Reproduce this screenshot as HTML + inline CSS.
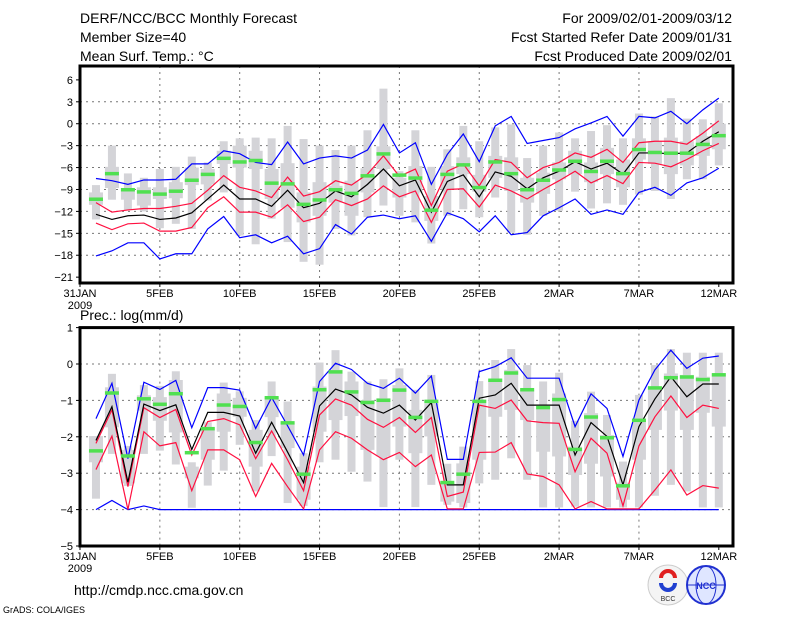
<!DOCTYPE html>
<html><head><meta charset="utf-8"><style>
html,body{margin:0;padding:0;background:#fff;}
svg{display:block;font-family:"Liberation Sans",sans-serif;}
</style></head><body>
<svg id="chart" width="800" height="618" viewBox="0 0 800 618" xmlns="http://www.w3.org/2000/svg">
<rect width="800" height="618" fill="#fff"/>
<g font-size="14" fill="#000">
<text x="80" y="23">DERF/NCC/BCC Monthly Forecast</text>
<text x="80" y="42">Member Size=40</text>
<text x="80" y="61">Mean Surf. Temp.: °C</text>
<text x="732" y="23" text-anchor="end">For 2009/02/01-2009/03/12</text>
<text x="732" y="42" text-anchor="end">Fcst Started Refer Date 2009/01/31</text>
<text x="732" y="61" text-anchor="end">Fcst Produced Date 2009/02/01</text>
<text x="80" y="320">Prec.: log(mm/d)</text>
<text x="74" y="595">http://cmdp.ncc.cma.gov.cn</text>
</g>
<text x="3" y="613" font-size="9">GrADS: COLA/IGES</text>
<g>
<circle cx="668" cy="585" r="20" fill="#f4f4f4" stroke="#ccc"/>
<path d="M661 578 a7 7 0 0 1 14 0" fill="none" stroke="#e02020" stroke-width="4"/>
<path d="M661 583 a7 7 0 0 0 14 0" fill="none" stroke="#2040d0" stroke-width="4"/>
<text x="668" y="601" font-size="7" text-anchor="middle" fill="#333">BCC</text>
</g>
<g>
<circle cx="706" cy="585" r="19" fill="#dfe6ff" stroke="#2030d0" stroke-width="2"/>
<ellipse cx="706" cy="585" rx="10" ry="19" fill="none" stroke="#2030d0"/>
<line x1="687" y1="585" x2="725" y2="585" stroke="#2030d0"/>
<text x="706" y="589" font-size="9" font-weight="bold" text-anchor="middle" fill="#2030d0">NCC</text>
</g>
<g id="p1"></g><g id="p2"></g>
</svg>
<script>
// ---- Temperature panel data (days 1..40 = Feb1..Mar12)
const tBlueMax=[-7.5,-7.8,-8.3,-7.7,-7.7,-7.6,-5.5,-5.5,-3.7,-4.1,-5.3,-5.6,-2.5,-5.5,-4.7,-4.4,-4.7,-3.6,-0.1,-4.0,-2.6,-8.3,-4.2,-1.4,-5.2,-0.3,1.0,-2.7,-2.3,-1.9,-0.7,0.1,1.0,-1.7,1.0,0.8,1.7,0.0,1.9,3.5];
const tRedUp=[-10.8,-12.1,-11.8,-11.6,-11.6,-11.3,-10.9,-9.1,-7.1,-8.7,-9.2,-10.1,-7.3,-9.9,-9.3,-7.8,-8.4,-6.9,-4.4,-7.2,-6.2,-11.2,-6.5,-5.5,-8.5,-4.9,-5.3,-7.4,-6.0,-5.3,-4.0,-4.6,-3.5,-5.3,-2.6,-2.4,-2.4,-2.8,-1.3,0.4];
const tMean=[-12.4,-13.1,-12.6,-12.5,-13.1,-12.9,-12.2,-10.3,-8.4,-10.3,-10.3,-11.3,-9.1,-11.5,-10.9,-9.2,-10.0,-8.3,-6.2,-8.5,-7.7,-12.1,-7.9,-7.0,-10.0,-6.6,-7.2,-8.9,-7.4,-6.5,-5.2,-6.2,-5.4,-6.9,-4.0,-4.0,-4.1,-4.0,-2.4,-1.1];
const tRedLo=[-13.6,-14.5,-13.7,-13.6,-14.7,-14.7,-14.2,-11.5,-10.0,-12.1,-12.1,-12.8,-11.1,-13.4,-12.8,-10.4,-11.2,-10.3,-8.5,-10.0,-9.2,-13.5,-9.0,-8.9,-11.4,-8.4,-9.2,-10.3,-9.0,-7.8,-6.5,-8.1,-7.1,-8.2,-5.3,-5.4,-5.9,-4.9,-3.7,-2.7];
const tBlueMin=[-18.1,-17.4,-16.3,-16.3,-18.5,-17.8,-17.8,-14.4,-12.7,-15.6,-15.2,-16.3,-15.4,-17.8,-17.1,-13.8,-15.1,-12.8,-12.5,-13.0,-12.6,-16.1,-12.2,-13.0,-14.8,-12.6,-15.2,-14.9,-12.6,-11.5,-10.3,-12.4,-11.8,-12.4,-9.4,-8.7,-9.8,-8.1,-7.4,-6.1];
const tGreen=[-10.3,-6.8,-9.0,-9.3,-9.6,-9.2,-7.7,-6.9,-4.7,-5.2,-5.0,-8.1,-8.2,-11.0,-10.4,-9.0,-9.5,-7.1,-4.1,-7.0,-7.4,-11.8,-6.9,-5.6,-8.7,-5.2,-6.8,-9.0,-7.7,-6.3,-5.1,-6.5,-5.1,-6.8,-3.5,-3.9,-4.0,-4.0,-2.8,-1.6];
const tWhiskHi=[-8.4,-3.0,-6.8,-7.4,-6.2,-5.9,-4.5,-5.3,-2.4,-2.0,-1.9,-2.0,-0.3,-2.1,-3.0,-3.6,-3.0,-0.9,4.8,-6.5,-0.9,-5.9,-3.5,-0.3,-2.4,-0.5,-0.1,-4.7,-3.0,-1.2,-2.0,-1.0,-0.2,-2.0,1.4,1.0,3.5,0.7,0.6,2.8];
const tWhiskLo=[-13.1,-10.4,-11.8,-12.0,-14.3,-13.7,-14.4,-10.5,-9.4,-15.3,-16.5,-13.0,-16.2,-18.9,-19.3,-14.4,-15.3,-12.8,-11.2,-12.6,-13.5,-16.4,-12.6,-11.7,-12.8,-10.1,-14.9,-15.2,-12.6,-11.9,-9.3,-11.6,-10.9,-11.1,-9.7,-9.2,-10.3,-7.6,-7.6,-5.7];
const tQ3=[-9.4,-5.9,-9.0,-8.7,-8.7,-8.0,-6.0,-6.2,-3.7,-3.0,-3.7,-6.2,-5.4,-9.4,-8.0,-8.5,-7.8,-6.1,-3.1,-7.4,-5.8,-9.9,-5.8,-4.6,-7.0,-4.4,-4.6,-7.4,-6.7,-5.3,-3.7,-5.3,-3.3,-4.9,-2.0,-2.4,-1.9,-2.4,-1.7,0.0];
const tQ1=[-11.1,-8.8,-10.4,-11.2,-10.3,-10.2,-8.4,-8.3,-5.5,-6.0,-6.2,-10.3,-11.5,-13.5,-12.6,-10.8,-12.6,-9.4,-6.2,-10.1,-9.4,-13.3,-9.0,-6.9,-9.3,-7.4,-9.2,-10.8,-9.6,-7.6,-6.9,-8.0,-6.9,-8.7,-4.9,-5.5,-6.9,-5.7,-4.4,-3.5];
const tTicks=[6,3,0,-3,-6,-9,-12,-15,-18,-21];
// ---- Precipitation panel data
const pBlueMax=[-1.5,-0.53,-2.6,-0.5,-0.7,-0.45,-1.75,-0.65,-0.65,-0.72,-1.77,-0.92,-1.7,-2.5,-0.48,0.02,-0.15,-0.53,-0.67,-0.39,-0.8,-0.33,-2.62,-2.62,-0.21,-0.07,0.17,-0.39,-0.39,-0.39,-1.72,-0.82,-1.22,-2.54,-0.99,-0.16,0.38,-0.12,0.16,0.22];
const pRedUp=[-2.18,-1.26,-3.37,-1.2,-1.47,-1.25,-2.5,-1.58,-1.5,-1.67,-2.6,-1.84,-2.63,-3.48,-1.4,-0.96,-1.13,-1.52,-1.74,-1.47,-1.88,-1.47,-3.64,-3.52,-1.13,-1.22,-0.99,-1.56,-1.61,-1.63,-2.96,-2.04,-2.45,-3.9,-2.25,-1.45,-0.88,-1.47,-1.13,-1.22];
const pMean=[-2.1,-1.17,-3.25,-1.1,-1.28,-1.12,-2.35,-1.33,-1.33,-1.43,-2.45,-1.6,-2.42,-3.26,-1.15,-0.69,-0.85,-1.19,-1.35,-1.13,-1.54,-1.06,-3.32,-3.32,-0.94,-0.85,-0.53,-1.13,-1.13,-1.13,-2.5,-1.61,-1.99,-3.32,-1.72,-0.96,-0.35,-0.9,-0.55,-0.55];
const pRedLo=[-2.9,-1.98,-4.0,-1.86,-2.25,-2.16,-3.48,-2.36,-2.36,-2.63,-3.64,-2.73,-3.37,-3.98,-2.36,-1.86,-2.04,-2.36,-2.63,-2.43,-2.82,-2.5,-3.98,-3.98,-2.43,-2.42,-2.16,-3.02,-3.09,-3.32,-3.98,-3.78,-3.98,-3.98,-3.98,-3.46,-2.91,-3.6,-3.34,-3.41];
const pBlueMin=[-4.0,-3.75,-4.0,-3.9,-4.0,-4.0,-4.0,-4.0,-4.0,-4.0,-4.0,-4.0,-4.0,-4.0,-4.0,-4.0,-4.0,-4.0,-4.0,-4.0,-4.0,-4.0,-4.0,-4.0,-4.0,-4.0,-4.0,-4.0,-4.0,-4.0,-4.0,-4.0,-4.0,-4.0,-4.0,-4.0,-4.0,-4.0,-4.0,-4.0];
const pGreen=[-2.38,-0.79,-2.52,-0.95,-1.1,-0.81,-2.43,-1.77,-1.12,-1.16,-2.15,-0.92,-1.61,-3.02,-0.7,-0.21,-0.76,-1.05,-0.99,-0.71,-1.46,-1.02,-3.25,-3.02,-1.02,-0.44,-0.24,-0.7,-1.19,-0.97,-2.34,-1.45,-2.02,-3.34,-1.54,-0.65,-0.37,-0.35,-0.42,-0.29];
const pWhiskHi=[-1.98,-0.27,-2.25,-0.58,-0.6,-0.2,-2.7,-1.6,-0.51,-0.75,-1.54,-0.48,-1.03,-2.45,0.04,0.38,-0.21,-0.48,-0.42,-0.12,-0.71,-0.3,-2.74,-2.27,-0.47,0.11,0.41,-0.03,-0.48,-0.24,-1.56,-0.76,-1.4,-2.68,-0.85,-0.03,0.41,0.31,0.31,0.31];
const pWhiskLo=[-3.7,-2.47,-3.35,-2.47,-2.38,-2.76,-3.95,-3.34,-2.93,-2.22,-3.5,-2.53,-3.82,-3.9,-2.7,-2.63,-2.96,-3.23,-3.93,-2.63,-3.93,-3.32,-3.87,-3.94,-3.28,-3.18,-2.59,-3.18,-3.94,-3.94,-3.92,-3.94,-3.94,-3.94,-3.94,-3.62,-3.32,-3.5,-3.94,-3.94];
const pQ3=[-1.98,-0.64,-2.36,-0.86,-0.91,-0.44,-2.82,-1.74,-0.81,-0.93,-1.81,-0.92,-1.61,-2.82,-0.62,-0.16,-0.48,-0.99,-0.94,-0.58,-1.26,-1.08,-3.28,-2.73,-0.99,-0.42,-0.16,-0.71,-1.13,-0.81,-2.27,-1.35,-1.95,-3.26,-1.52,-0.62,-0.26,-0.3,-0.35,-0.26];
const pQ1=[-2.7,-1.74,-3.28,-1.28,-1.56,-1.88,-3.14,-2.63,-1.86,-1.45,-2.82,-1.46,-2.31,-3.73,-1.86,-1.54,-1.43,-2.36,-2.54,-1.72,-2.45,-1.99,-3.78,-3.82,-2.63,-1.45,-1.26,-1.54,-2.41,-2.54,-3.05,-2.74,-3.09,-3.73,-2.63,-1.81,-1.28,-1.81,-1.34,-1.72];
const pTicks=[1,0,-1,-2,-3,-4,-5];
const xLabels=["31JAN","5FEB","10FEB","15FEB","20FEB","25FEB","2MAR","7MAR","12MAR"];

const NS="http://www.w3.org/2000/svg";
const X0=80,X1=733,DX=15.97;
function xs(d){return X0+d*DX;}
function mk(p,tag,a){const e=document.createElementNS(NS,tag);for(const k in a)e.setAttribute(k,a[k]);p.appendChild(e);return e;}

function panel(g,top,bot,vTop,vBot,ticks,S){
  const ys=v=>top+(vTop-v)/(vTop-vBot)*(bot-top);
  ticks.forEach((t,i)=>{
    if(i>0&&i<ticks.length-1){const l=mk(g,'line',{x1:X0,x2:X1,y1:ys(t),y2:ys(t),stroke:'#777','stroke-dasharray':'2,4','stroke-width':1});
    
    }
    mk(g,'line',{x1:X0-4,x2:X0,y1:ys(t),y2:ys(t),stroke:'#000'});
    const tx=mk(g,'text',{x:X0-7,y:ys(t)+4,'font-size':11,'text-anchor':'end'});
    tx.textContent=(t<0?'\u2212'+(-t):t);
    
    
  });
  xLabels.forEach((lab,i)=>{
    const x=xs(i*5);
    if(i>0&&i<xLabels.length-1){const l=mk(g,'line',{x1:x,x2:x,y1:top,y2:bot,stroke:'#777','stroke-dasharray':'2,4'});
    
    }
    mk(g,'line',{x1:x,x2:x,y1:bot,y2:bot+4,stroke:'#000'});
    const tx=mk(g,'text',{x:x,y:bot+14,'font-size':11,'text-anchor':'middle'});
    tx.textContent=lab;
    
    
  });
  const yr=mk(g,'text',{x:X0,y:bot+26,'font-size':11,'text-anchor':'middle'});yr.textContent='2009';
  
  
  for(let i=0;i<S.green.length;i++){
    const x=xs(i+1);
    const w=mk(g,'rect',{x:x-4,y:ys(S.wh[i]),width:8,height:ys(S.wl[i])-ys(S.wh[i]),fill:'#d4d4d8'});
    
    
    const b=mk(g,'rect',{x:x-7,y:ys(S.q3[i]),width:14,height:Math.max(1,ys(S.q1[i])-ys(S.q3[i])),fill:'#d4d4d8'});
    
    
  }
  const lines=[[S.bmin,'#0000ff'],[S.rlo,'#ff1040'],[S.rup,'#ff1040'],[S.mean,'#000'],[S.bmax,'#0000ff']];
  const nm=['min-line','lower-line','upper-line','mean-line','max-line'];
  lines.forEach((L,k)=>{
    const pl=mk(g,'polyline',{points:L[0].map((v,i)=>xs(i+1)+','+ys(v)).join(' '),fill:'none',stroke:L[1],'stroke-width':1.2});
    
    
  });
  for(let i=0;i<S.green.length;i++){
    const r=mk(g,'rect',{x:xs(i+1)-7,y:ys(S.green[i])-1.5,width:14,height:3.5,fill:'#50e050'});
    
    
  }
  const f=mk(g,'rect',{x:X0,y:top,width:X1-X0,height:bot-top,fill:'none',stroke:'#000','stroke-width':3});
  
  
}
panel(document.getElementById('p1'),66,283,7.9,-21.8,tTicks,{bmax:tBlueMax,rup:tRedUp,mean:tMean,rlo:tRedLo,bmin:tBlueMin,green:tGreen,wh:tWhiskHi,wl:tWhiskLo,q3:tQ3,q1:tQ1});
panel(document.getElementById('p2'),327.6,546,1,-5,pTicks,{bmax:pBlueMax,rup:pRedUp,mean:pMean,rlo:pRedLo,bmin:pBlueMin,green:pGreen,wh:pWhiskHi,wl:pWhiskLo,q3:pQ3,q1:pQ1});
</script>
</body></html>
